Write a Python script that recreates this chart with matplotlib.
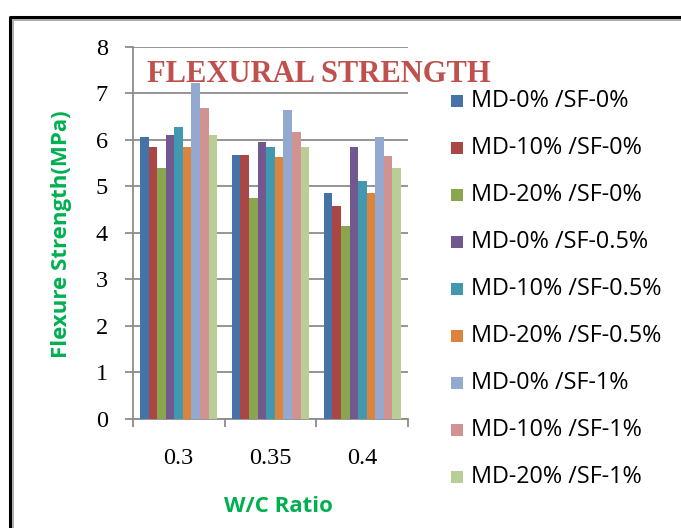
import numpy as np
from matplotlib import pyplot as plt
from matplotlib.lines import Line2D
from matplotlib.patches import Rectangle

# ---------------------------------------------------------------------------
# Data
# ---------------------------------------------------------------------------
wc_ratios = ["0.3", "0.35", "0.4"]
series_labels = [
    "MD-0% /SF-0%", "MD-10% /SF-0%", "MD-20% /SF-0%",
    "MD-0% /SF-0.5%", "MD-10% /SF-0.5%", "MD-20% /SF-0.5%",
    "MD-0% /SF-1%", "MD-10% /SF-1%", "MD-20% /SF-1%",
]
md0_sf0 = [6.07, 5.67, 4.85]
md10_sf0 = [5.84, 5.67, 4.57]
md20_sf0 = [5.39, 4.75, 4.15]
md0_sf05 = [6.10, 5.96, 5.84]
md10_sf05 = [6.27, 5.84, 5.12]
md20_sf05 = [5.84, 5.63, 4.85]
md0_sf1 = [7.23, 6.65, 6.07]
md10_sf1 = [6.68, 6.17, 5.66]
md20_sf1 = [6.10, 5.84, 5.39]
series_values = [md0_sf0, md10_sf0, md20_sf0, md0_sf05, md10_sf05,
                 md20_sf05, md0_sf1, md10_sf1, md20_sf1]
y_ticks = [0, 1, 2, 3, 4, 5, 6, 7, 8]

colors = ["#4572A7", "#AA4643", "#89A54E", "#71588F", "#4198AF",
          "#DB843D", "#93A9CF", "#D19392", "#B9CD96"]

W, H = 681, 528


def fx(px):
    return px / W


def fy(py):
    return 1 - py / H


fig = plt.figure(figsize=(W / 100, H / 100), dpi=100)

# -- outer frame (black line + thin grey inner line, running off the page) --
fig.add_artist(Line2D([fx(9.5), fx(9.5), fx(700)], [fy(600), fy(16.5), fy(16.5)],
                      color="black", lw=2.2, transform=fig.transFigure))
fig.add_artist(Line2D([fx(13), fx(13), fx(700)], [fy(600), fy(20), fy(20)],
                      color="#A6A6A6", lw=1.3, transform=fig.transFigure))

# -- plot area --
ax_left, ax_right, ax_top, ax_bottom = 132.7, 408.3, 46.7, 419.0
ax = fig.add_axes([fx(ax_left), fy(ax_bottom),
                   (ax_right - ax_left) / W, (ax_bottom - ax_top) / H])

x = np.arange(len(wc_ratios))
n = len(series_values)
group_span = 0.84
bw = group_span / n
for i, (vals, col) in enumerate(zip(series_values, colors)):
    offs = -group_span / 2 + bw * (i + 0.5)
    ax.bar(x + offs, vals, width=bw, color=col, edgecolor="none",
           label=series_labels[i], zorder=3)

grid_col = "#8C8C8C"
ax.set_xlim(-0.5, len(wc_ratios) - 0.5)
ax.set_ylim(0, 8)
ax.set_yticks(y_ticks)
ax.yaxis.grid(True, color=grid_col, lw=1.3, zorder=0)
ax.set_axisbelow(True)
for s in ["top", "right"]:
    ax.spines[s].set_visible(False)
for s in ["left", "bottom"]:
    ax.spines[s].set_color(grid_col)
    ax.spines[s].set_linewidth(1.3)

# x: tick marks at group boundaries, labels at group centres
ax.set_xticks(np.arange(len(wc_ratios) + 1) - 0.5)
ax.set_xticklabels([])
ax.set_xticks(x, minor=True)
ax.set_xticklabels(wc_ratios, minor=True)
ax.tick_params(axis="x", which="major", length=6, width=1.3, color=grid_col)
ax.tick_params(axis="x", which="minor", length=0, pad=21,
               labelsize=17.5, labelfontfamily="Liberation Serif")
ax.tick_params(axis="y", length=6, width=1.3, color=grid_col, pad=12,
               labelsize=17.5, labelfontfamily="Liberation Serif")

# -- title --
fig.text(fx(147), fy(82), "FLEXURAL STRENGTH", color="#C0504D",
         fontsize=22, fontweight="bold", family="Liberation Serif",
         ha="left", va="baseline")

# -- axis titles --
green = "#00B050"
fig.text(fx(62), fy(234), "Flexure Strength(MPa)", rotation=90, color=green,
         fontsize=16, fontweight="bold", family="Open Sans",
         ha="center", va="center")
fig.text(fx(278), fy(506), "W/C Ratio", color=green, fontsize=16,
         fontweight="bold", family="Open Sans", ha="center", va="center")

# -- legend, one row per series --
sq = 12
for i, (lab, col) in enumerate(zip(series_labels, colors)):
    cy = 100.7 + 47 * i
    fig.add_artist(Rectangle((fx(451), fy(cy + sq / 2)), sq / W, sq / H,
                             facecolor=col, edgecolor="none",
                             transform=fig.transFigure))
    fig.text(fx(471), fy(cy), lab, fontsize=16.8, family="Open Sans",
             ha="left", va="center", color="black")

fig.savefig("out.png", dpi=100)
